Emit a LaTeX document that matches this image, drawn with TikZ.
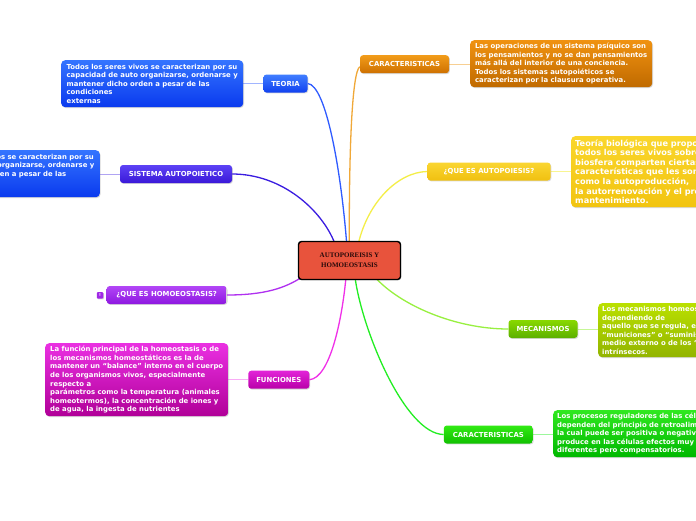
\documentclass[tikz,border=0pt]{standalone}
\usepackage{fontspec}
\setmainfont{DejaVu Sans}
\newfontfamily\centerfont{Liberation Serif}
\usetikzlibrary{shadows,backgrounds}
\definecolor{cTeo}{HTML}{2F5BFF}
\definecolor{cSis}{HTML}{3A1CE0}
\definecolor{cHom}{HTML}{B030F0}
\definecolor{cFun}{HTML}{F030E8}
\definecolor{cOra}{HTML}{F0A838}
\definecolor{cYel}{HTML}{F4EE48}
\definecolor{cMec}{HTML}{98F040}
\definecolor{cGre}{HTML}{22EE22}
\definecolor{cCenter}{HTML}{E8533C}
\begin{document}
\begin{tikzpicture}[x=1pt,y=-1pt,
  shad/.style={drop shadow={shadow xshift=0.8pt,shadow yshift=-0.9pt,opacity=0.3}},
  lbl/.style={shad, rounded corners=3pt, text=white, font=\bfseries\fontsize{6.9}{8}\selectfont, minimum height=18pt, inner sep=0pt},
  txt/.style={shad, rounded corners=4pt, text=white, font=\bfseries\fontsize{6.9}{8.6}\selectfont, align=left, inner xsep=4pt, inner ysep=2pt},
  conn/.style={line width=1.3pt},
  link/.style={line width=0.9pt},
]
\useasboundingbox (0,0) rectangle (696,520);
\clip (0,0) rectangle (696,520);

% ---- labels ----
\node[lbl, top color={rgb,255:red,64;green,126;blue,255}, bottom color={rgb,255:red,16;green,64;blue,240}, minimum width=44pt] (teoria) at (285.5,83.5) {TEORIA};
\node[lbl, top color={rgb,255:red,92;green,66;blue,245}, bottom color={rgb,255:red,58;green,24;blue,216}, minimum width=112pt] (sistema) at (176,174) {SISTEMA AUTOPOIETICO};
\node[lbl, top color={rgb,255:red,178;green,70;blue,246}, bottom color={rgb,255:red,142;green,24;blue,224}, minimum width=120pt] (homeo) at (166.7,295) {¿QUE ES HOMOEOSTASIS?};
\node[shad, rounded corners=1pt, fill={rgb,255:red,160;green,40;blue,230}, minimum size=6.5pt, inner sep=0pt, text=white, font=\bfseries\fontsize{4}{4}\selectfont] (mark) at (100,295.3) {!};
\node[lbl, top color={rgb,255:red,226;green,36;blue,216}, bottom color={rgb,255:red,184;green,0;blue,168}, minimum width=61pt] (func) at (278.8,379.7) {FUNCIONES};
\node[lbl, top color={rgb,255:red,242;green,156;blue,26}, bottom color={rgb,255:red,206;green,112;blue,0}, minimum width=89pt] (car1) at (404.5,64.2) {CARACTERISTICAS};
\node[lbl, top color={rgb,255:red,250;green,214;blue,50}, bottom color={rgb,255:red,240;green,192;blue,16}, minimum width=123pt] (auto) at (489,171.5) {¿QUE ES AUTOPOIESIS?};
\node[lbl, top color={rgb,255:red,136;green,216;blue,0}, bottom color={rgb,255:red,92;green,176;blue,0}, minimum width=69pt] (mec) at (543,329) {MECANISMOS};
\node[lbl, top color={rgb,255:red,50;green,234;blue,20}, bottom color={rgb,255:red,16;green,192;blue,0}, minimum width=89pt] (car2) at (488.3,434.5) {CARACTERISTICAS};

% ---- text boxes ----
\node[txt, anchor=north west, minimum width=182pt, minimum height=47pt, top color={rgb,255:red,52;green,116;blue,255}, bottom color={rgb,255:red,10;green,58;blue,238}] (tteoria) at (61,60) {Todos los seres vivos se caracterizan por su\\capacidad de auto organizarse, ordenarse y\\mantener dicho orden a pesar de las\\condiciones\\externas};
\node[txt, anchor=north east, minimum width=182pt, minimum height=47pt, top color={rgb,255:red,52;green,116;blue,255}, bottom color={rgb,255:red,10;green,58;blue,238}] (tsistema) at (100,150) {Todos los seres vivos se caracterizan por su\\capacidad de auto organizarse, ordenarse y\\mantener dicho orden a pesar de las\\condiciones\\externas};
\node[txt, anchor=north west, minimum width=183pt, minimum height=73pt, top color={rgb,255:red,234;green,48;blue,226}, bottom color={rgb,255:red,176;green,0;blue,152}] (tfunc) at (45,343) {La función principal de la homeostasis o de\\los mecanismos homeostáticos es la de\\mantener un “balance” interno en el cuerpo\\de los organismos vivos, especialmente\\respecto a\\parámetros como la temperatura (animales\\homeotermos), la concentración de iones y\\de agua, la ingesta de nutrientes};
\node[txt, anchor=north west, minimum width=182pt, minimum height=47pt, top color={rgb,255:red,240;green,146;blue,16}, bottom color={rgb,255:red,192;green,106;blue,0}] (tcar1) at (470,40) {Las operaciones de un sistema psíquico son\\los pensamientos y no se dan pensamientos\\más allá del interior de una conciencia.\\Todos los sistemas autopoiéticos se\\caracterizan por la clausura operativa.};
\node[txt, anchor=north west, minimum height=71pt, font=\bfseries\fontsize{8.2}{9.6}\selectfont, top color={rgb,255:red,250;green,214;blue,44}, bottom color={rgb,255:red,242;green,196;blue,16}] (tauto) at (571,136) {Teoría biológica que propone que\\todos los seres vivos sobre la\\biosfera comparten ciertas\\características que les son propias\\como la autoproducción,\\la autorrenovación y el propio\\mantenimiento.};
\node[txt, anchor=north west, minimum height=54pt, top color={rgb,255:red,186;green,224;blue,0}, bottom color={rgb,255:red,146;green,180;blue,0}] (tmec) at (598,303) {Los mecanismos homeostáticos,\\dependiendo de\\aquello que se regula, emplean\\“municiones” o “suministros” del\\medio externo o de los “recursos”\\intrínsecos.};
\node[txt, anchor=north west, minimum height=47pt, top color={rgb,255:red,48;green,232;blue,32}, bottom color={rgb,255:red,0;green,184;blue,0}] (tcar2) at (553,410) {Los procesos reguladores de las células\\dependen del principio de retroalimentación,\\la cual puede ser positiva o negativa y\\produce en las células efectos muy\\diferentes pero compensatorios.};

% ---- center ----
\node[shad, draw=black, line width=1.4pt, fill=cCenter, rounded corners=3pt, minimum width=102pt, minimum height=38pt, align=center, font=\centerfont\bfseries\fontsize{7}{10}\selectfont, text={rgb,255:red,40;green,10;blue,10}] (center) at (349.5,260.5) {AUTOPOREISIS Y\\ HOMOEOSTASIS};

\begin{pgfonlayer}{background}
\fill[white] (0,0) rectangle (696,520);
% ---- links label -> text ----
\draw[link, cTeo!45] (teoria.west) -- (tteoria.east |- teoria.west);
\draw[link, cSis!40] (sistema.west) -- (tsistema.east |- sistema.west);
\draw[link, cFun!40] (func.west) -- (tfunc.east |- func.west);
\draw[link, cOra!55] (car1.east) -- (tcar1.west |- car1.east);
\draw[link, cYel!60] (auto.east) -- (tauto.west |- auto.east);
\draw[link, cMec!55] (mec.east) -- (tmec.west |- mec.east);
\draw[link, cGre!45] (car2.east) -- (tcar2.west |- car2.east);
% ---- connectors ----
\draw[conn, cTeo] (teoria.east) .. controls (326,85) and (341,170) .. ([xshift=-2.8pt,yshift=-3pt]center.north);
\draw[conn, cSis] (sistema.east) .. controls (282,174) and (322,210) .. ([xshift=-14.5pt,yshift=-3pt]center.north);
\draw[conn, cOra] ([yshift=-2.5pt]car1.west) .. controls (352,72) and (349,150) .. ([xshift=-0.2pt,yshift=-3pt]center.north);
\draw[conn, cYel] (auto.west) .. controls (398,172) and (368,202) .. ([xshift=8.8pt,yshift=-3pt]center.north);
\draw[conn, cHom] (homeo.east) .. controls (265,295) and (285,288) .. ([xshift=4pt,yshift=3pt]center.south west);
\draw[conn, cFun] (func.east) .. controls (330,378) and (342,320) .. ([xshift=-3.5pt,yshift=3pt]center.south);
\draw[conn, cGre] (car2.west) .. controls (405,434) and (362,330) .. ([xshift=5.5pt,yshift=3pt]center.south);
\draw[conn, cMec] (mec.west) .. controls (455,329) and (400,305) .. ([xshift=25.5pt,yshift=3pt]center.south);
\end{pgfonlayer}
\end{tikzpicture}
\end{document}
